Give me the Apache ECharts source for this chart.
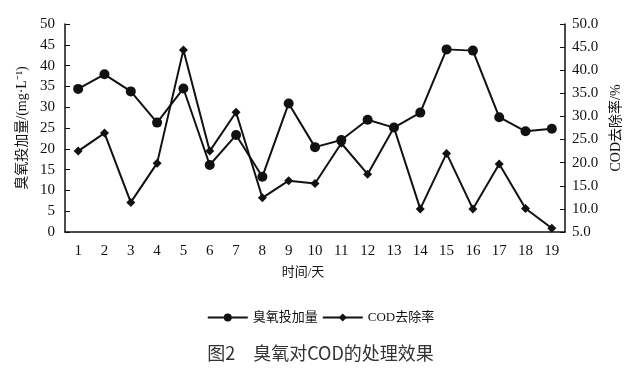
<!DOCTYPE html>
<html>
<head>
<meta charset="utf-8">
<script src="https://cdn.jsdelivr.net/npm/echarts@6/dist/echarts.min.js"></script>
<style>html,body{margin:0;padding:0;background:#fff;}#c{width:641px;height:370px;}</style>
</head>
<body>
<div id="c"></div>
<script>
var categories = ['1','2','3','4','5','6','7','8','9','10','11','12','13','14','15','16','17','18','19'];
var ozoneDose = [34.4, 37.9, 33.8, 26.3, 34.5, 16.1, 23.3, 13.3, 30.9, 20.4, 22.1, 27.0, 25.1, 28.7, 43.9, 43.6, 27.6, 24.2, 24.8];
var codRemoval = [22.5, 26.4, 11.4, 19.9, 44.4, 22.5, 30.9, 12.4, 16.1, 15.5, 24.2, 17.5, 27.6, 10.0, 22.0, 10.0, 19.7, 10.1, 5.8];
var seriesNames = ['臭氧投加量', 'COD去除率'];
var leftAxisName = '臭氧投加量/(mg·L⁻¹)';
var rightAxisName = 'COD去除率/%';
var xAxisName = '时间/天';
var chartTitle = '图2　臭氧对COD的处理效果';

var serif = '"Liberation Serif", "Noto Sans CJK SC", serif';
var chart = echarts.init(document.getElementById('c'), null, {renderer: 'canvas'});
chart.setOption({
  backgroundColor: '#ffffff',
  animation: false,
  title: {
    text: chartTitle,
    left: 'center',
    top: 339,
    textStyle: {fontFamily: '"Noto Sans CJK SC", sans-serif', fontSize: 18, fontWeight: 'normal', color: '#333'}
  },
  legend: {
    data: seriesNames,
    top: 306,
    left: 'center',
    itemWidth: 40,
    itemHeight: 10,
    itemGap: 4,
    textStyle: {fontFamily: serif, fontSize: 13, color: '#111'}
  },
  grid: {left: 65, right: 76, top: 24, bottom: 138, containLabel: false},
  xAxis: {
    type: 'category',
    data: categories,
    boundaryGap: true,
    name: xAxisName,
    nameLocation: 'middle',
    nameGap: 34,
    nameTextStyle: {fontFamily: serif, fontSize: 13, color: '#111', padding: [0, 24, 0, 0]},
    axisLine: {lineStyle: {color: '#111', width: 1.5}},
    axisTick: {inside: true, length: 5, lineStyle: {color: '#111'}},
    axisLabel: {fontFamily: serif, fontSize: 15, color: '#111', margin: 12}
  },
  yAxis: [
    {
      type: 'value', min: 0, max: 50, interval: 5, position: 'left',
      name: leftAxisName, nameLocation: 'middle', nameGap: 33, nameRotate: 90,
      nameTextStyle: {fontFamily: serif, fontSize: 14, color: '#111'},
      axisLine: {show: true, lineStyle: {color: '#111', width: 1.5}},
      axisTick: {show: true, inside: true, length: 5, lineStyle: {color: '#111'}},
      axisLabel: {fontFamily: serif, fontSize: 15, color: '#111', margin: 10},
      splitLine: {show: false}
    },
    {
      type: 'value', min: 5, max: 50, interval: 5, position: 'right',
      name: rightAxisName, nameLocation: 'middle', nameGap: 40, nameRotate: 90,
      nameTextStyle: {fontFamily: serif, fontSize: 14, color: '#111'},
      axisLine: {show: true, lineStyle: {color: '#111', width: 1.5}},
      axisTick: {show: true, inside: true, length: 5, lineStyle: {color: '#111'}},
      axisLabel: {fontFamily: serif, fontSize: 15, color: '#111', margin: 7,
        formatter: function (v) { return v.toFixed(1); }},
      splitLine: {show: false}
    }
  ],
  series: [
    {
      name: seriesNames[0], type: 'line', yAxisIndex: 0, data: ozoneDose,
      symbol: 'circle', symbolSize: 10,
      lineStyle: {color: '#111', width: 2},
      itemStyle: {color: '#111'}
    },
    {
      name: seriesNames[1], type: 'line', yAxisIndex: 1, data: codRemoval,
      symbol: 'diamond', symbolSize: 9,
      lineStyle: {color: '#111', width: 2},
      itemStyle: {color: '#111'}
    }
  ]
});
</script>
</body>
</html>
